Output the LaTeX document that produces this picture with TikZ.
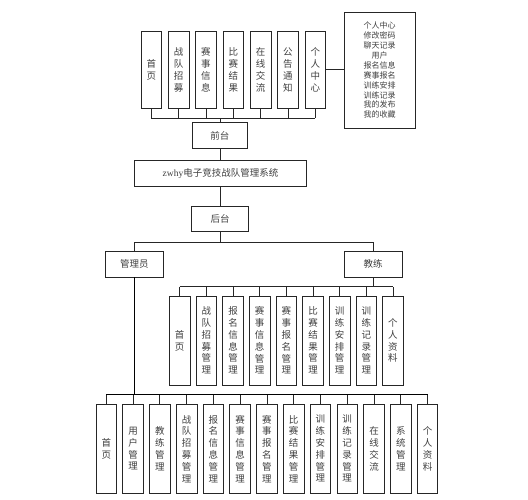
\documentclass[tikz,border=0pt]{standalone}
\usepackage{fontspec}
\setmainfont{Liberation Serif}
\newfontfamily\cjk{Noto Sans CJK SC}
\newfontfamily\latn{Liberation Serif}
\begin{document}
\begin{tikzpicture}[x=1pt,y=-1pt,
  bx/.style={draw=black!85,line width=0.8pt,inner sep=0pt,text=black!75,
    font=\cjk\fontsize{9.5}{11.8}\selectfont,align=center},
  vbox/.style={bx,minimum width=20.7pt,minimum height=76.3pt},
  lbox/.style={bx,minimum width=20.6pt,minimum height=89pt},
  hbox/.style={bx,minimum height=25.4pt},
  ln/.style={draw=black!85,line width=0.8pt},
  thk/.style={draw=black,line width=1.6pt}]
\useasboundingbox (0,0) rectangle (528,500);
\fill[white] (0,0) rectangle (528,500);
% top row
\foreach \t [count=\i from 0] in {{首\\页},{战\\队\\招\\募},{赛\\事\\信\\息},{比\\赛\\结\\果},{在\\线\\交\\流},{公\\告\\通\\知},{个\\人\\中\\心}}
  \node[vbox] (t\i) at (151.3+27.33*\i,69.85) {\t};
\node[bx,minimum width=70.7pt,minimum height=116pt,font=\cjk\fontsize{8}{9.9}\selectfont] (rb) at (379.7,70.3)
  {个人中心\\修改密码\\聊天记录\\用户\\报名信息\\赛事报名\\训练安排\\训练记录\\我的发布\\我的收藏};
\draw[ln] (t6.east) -- (t6.east -| rb.west);
\node[hbox,minimum width=55.7pt] (qt) at (219.9,135.5) {前台};
\coordinate (busA) at (0,118.3);
\foreach \i in {0,...,6} \draw[ln] (t\i.south) -- (t\i.south |- busA);
\draw[ln] (t0.south |- busA) -- (t6.south |- busA);
\draw[ln] (qt.north) -- (qt.north |- busA);
% system
\node[hbox,minimum width=172.4pt] (sys) at (220.5,173.35) {\latn zwhy\cjk 电子竞技战队管理系统};
\node[hbox,minimum width=57.3pt] (ht) at (220.2,218.65) {后台};
\draw[ln] (qt.south) -- (qt.south |- sys.north);
\draw[ln] (ht.north |- sys.south) -- (ht.north);
% roles
\node[hbox,minimum width=57.3pt] (adm) at (134.35,264.35) {管理员};
\node[hbox,minimum width=57.7pt] (coa) at (373.15,264.35) {教练};
\coordinate (busB) at (0,242.3);
\draw[ln] (ht.south) -- (ht.south |- busB);
\draw[ln] (adm.north) |- (ht.south |- busB) -| (coa.north);
% coach children
\foreach \t [count=\i from 0] in {{首\\页},{战\\队\\招\\募\\管\\理},{报\\名\\信\\息\\管\\理},{赛\\事\\信\\息\\管\\理},{赛\\事\\报\\名\\管\\理},{比\\赛\\结\\果\\管\\理},{训\\练\\安\\排\\管\\理},{训\\练\\记\\录\\管\\理},{个\\人\\资\\料}}
  \node[lbox] (c\i) at (179.7+26.66*\i,340.5) {\t};
\coordinate (busC) at (0,286.7);
\foreach \i in {0,...,8} \draw[ln] (c\i.north) -- (c\i.north |- busC);
\draw[ln] (c0.north |- busC) -- (c8.north |- busC);
\draw[ln] (coa.south) -- (coa.south |- busC);
% admin children
\foreach \t [count=\i from 0] in {{首\\页},{用\\户\\管\\理},{教\\练\\管\\理},{战\\队\\招\\募\\管\\理},{报\\名\\信\\息\\管\\理},{赛\\事\\信\\息\\管\\理},{赛\\事\\报\\名\\管\\理},{比\\赛\\结\\果\\管\\理},{训\\练\\安\\排\\管\\理},{训\\练\\记\\录\\管\\理},{在\\线\\交\\流},{系\\统\\管\\理},{个\\人\\资\\料}}
  \node[lbox] (a\i) at (106.3+26.77*\i,448.8) {\t};
\coordinate (busD) at (0,394.3);
\foreach \i in {0,...,12} \draw[ln] (a\i.north) -- (a\i.north |- busD);
\draw[thk] (a0.north |- busD) -- (a12.north |- busD);
\draw[thk] (adm.south) -- (adm.south |- busD);
\end{tikzpicture}
\end{document}
